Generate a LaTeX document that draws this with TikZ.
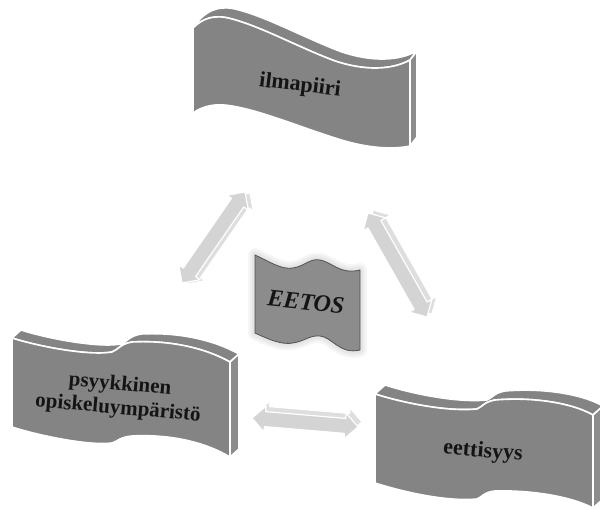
\documentclass[tikz,border=0pt]{standalone}
\usepackage{fontspec}
\setmainfont{Liberation Serif}
\usetikzlibrary{calc}

\definecolor{slabgray}{RGB}{132,132,132}
\definecolor{slabside}{RGB}{140,140,140}
\definecolor{flaggray}{RGB}{140,140,140}
\definecolor{flagline}{RGB}{80,80,80}
\definecolor{arrowfront}{RGB}{212,212,212}
\definecolor{arrowside}{RGB}{222,222,222}
\definecolor{inkblack}{RGB}{20,20,20}

% Extruded wavy slab: front edges T0..T9 (top) and B0..B9 (bottom),
% extruded by the vector (#1,#2).
\newcommand\drawslab[2]{%
  \filldraw[slabface] (T0) .. controls (T1) and (T2) .. (T3)
      .. controls (T4) and (T5) .. (T6) .. controls (T7) and (T8) .. (T9)
      -- ($(T9)+(#1,#2)$)
      .. controls ($(T8)+(#1,#2)$) and ($(T7)+(#1,#2)$) .. ($(T6)+(#1,#2)$)
      .. controls ($(T5)+(#1,#2)$) and ($(T4)+(#1,#2)$) .. ($(T3)+(#1,#2)$)
      .. controls ($(T2)+(#1,#2)$) and ($(T1)+(#1,#2)$) .. ($(T0)+(#1,#2)$)
      -- cycle;
  \filldraw[slabface, fill=slabside] (T9) -- ($(T9)+(#1,#2)$)
      -- ($(B9)+(#1,#2)$) -- (B9) -- cycle;
  \filldraw[slabface] (T0) .. controls (T1) and (T2) .. (T3)
      .. controls (T4) and (T5) .. (T6) .. controls (T7) and (T8) .. (T9)
      -- (B9) .. controls (B8) and (B7) .. (B6)
      .. controls (B5) and (B4) .. (B3) .. controls (B2) and (B1) .. (B0)
      -- cycle;
}

% Double block arrow outline between the coordinates (arrA) and (arrB)
\newcommand\arrowoutline{%
  (arrA)
  -- ($(arrA)!13pt!(arrB)!13pt!90:(arrB)$)
  -- ($(arrA)!13pt!(arrB)!7.5pt!90:(arrB)$)
  -- ($(arrB)!13pt!(arrA)!7.5pt!-90:(arrA)$)
  -- ($(arrB)!13pt!(arrA)!13pt!-90:(arrA)$)
  -- (arrB)
  -- ($(arrB)!13pt!(arrA)!13pt!90:(arrA)$)
  -- ($(arrB)!13pt!(arrA)!7.5pt!90:(arrA)$)
  -- ($(arrA)!13pt!(arrB)!7.5pt!-90:(arrB)$)
  -- ($(arrA)!13pt!(arrB)!13pt!-90:(arrB)$)
  -- cycle}

% Block arrow from #1 to #2 with a side copy offset by (#3,#4)
\newcommand\blockarrow[4]{%
  \coordinate (arrA) at ($(#1)+(#3,#4)$);
  \coordinate (arrB) at ($(#2)+(#3,#4)$);
  \filldraw[arrowbody, fill=arrowside] \arrowoutline;
  \coordinate (arrA) at (#1);
  \coordinate (arrB) at (#2);
  \filldraw[arrowbody, fill=arrowfront] \arrowoutline;
}

\tikzset{
  slabface/.style={fill=slabgray, draw=white, line width=1.6pt, line join=round},
  arrowbody/.style={draw=white, line width=1.2pt, line join=round},
  slabtext/.style={text=inkblack, font=\bfseries\fontsize{21}{24}\selectfont, align=center},
  flagtext/.style={text=inkblack, font=\bfseries\itshape\fontsize{24}{27}\selectfont}
}

\begin{document}
\begin{tikzpicture}[x=1pt,y=-1pt]
\useasboundingbox (0,0) rectangle (600,510);

% ---- top slab: ilmapiiri
\coordinate (T0) at (193,28);  \coordinate (T1) at (203,18);
\coordinate (T2) at (215,14);  \coordinate (T3) at (232,19);
\coordinate (T4) at (262,27);  \coordinate (T5) at (300,48);
\coordinate (T6) at (335,61);  \coordinate (T7) at (365,71);
\coordinate (T8) at (392,70);  \coordinate (T9) at (410,60);
\coordinate (B0) at (193,113); \coordinate (B1) at (203,106);
\coordinate (B2) at (215,103); \coordinate (B3) at (232,106);
\coordinate (B4) at (262,111); \coordinate (B5) at (300,127);
\coordinate (B6) at (335,138); \coordinate (B7) at (365,148);
\coordinate (B8) at (392,150); \coordinate (B9) at (410,146);
\drawslab{7}{-9}
\node[slabtext, font=\bfseries\fontsize{22}{24}\selectfont, rotate=-7] (ilma) at (300,86) {ilmapiiri};

% ---- lower left slab
\coordinate (T0) at (12,338);  \coordinate (T1) at (40,347);
\coordinate (T2) at (90,356);  \coordinate (T3) at (112,352);
\coordinate (T4) at (118,350); \coordinate (T5) at (120,344);
\coordinate (T6) at (132,342); \coordinate (T7) at (170,340);
\coordinate (T8) at (205,348); \coordinate (T9) at (230,362);
\coordinate (B0) at (12,427);  \coordinate (B1) at (40,436);
\coordinate (B2) at (90,446);  \coordinate (B3) at (112,443);
\coordinate (B4) at (118,441); \coordinate (B5) at (120,437);
\coordinate (B6) at (132,436); \coordinate (B7) at (170,434);
\coordinate (B8) at (205,442); \coordinate (B9) at (230,457);
\drawslab{9}{-8}
\node[slabtext, rotate=-5] (psyk) at (119,397) {psyykkinen\\opiskeluympäristö};

% ---- lower right slab: eettisyys
\coordinate (T0) at (375,394); \coordinate (T1) at (400,402);
\coordinate (T2) at (445,412); \coordinate (T3) at (477,409);
\coordinate (T4) at (482,407); \coordinate (T5) at (484,402);
\coordinate (T6) at (495,400); \coordinate (T7) at (530,397);
\coordinate (T8) at (570,402); \coordinate (T9) at (593,415);
\coordinate (B0) at (375,483); \coordinate (B1) at (400,491);
\coordinate (B2) at (445,502); \coordinate (B3) at (477,499);
\coordinate (B4) at (482,497); \coordinate (B5) at (484,492);
\coordinate (B6) at (495,491); \coordinate (B7) at (530,490);
\coordinate (B8) at (570,496); \coordinate (B9) at (593,508);
\drawslab{10}{-9}
\node[slabtext, font=\bfseries\fontsize{22}{24}\selectfont, rotate=-5] (etti) at (483,452) {eettisyys};

% ---- central flag with a soft halo
\def\flagpath{(255,255) .. controls (270,262) and (282,270) .. (293,268)
  .. controls (305,266) and (310,258) .. (320,260)
  .. controls (332,262) and (340,275) .. (360,270)
  -- (360,350) .. controls (340,355) and (332,337) .. (320,336)
  .. controls (310,335) and (305,341) .. (293,343)
  .. controls (282,345) and (270,340) .. (255,333) -- cycle}
\foreach \w in {14,10,6} {
  \draw[gray, opacity=0.07, line width=\w pt, line join=round] \flagpath;
}
\filldraw[fill=flaggray, draw=flagline, line width=0.8pt] \flagpath;
\node[flagtext, rotate=-6] (eetos) at (306,302) {EETOS};

% ---- double block arrows between the slabs
\coordinate (ulA) at (182,283); \coordinate (ulB) at (245,192);
\coordinate (urA) at (368,213); \coordinate (urB) at (427,317);
\coordinate (boA) at (252,418); \coordinate (boB) at (358,427);
\blockarrow{ulA}{ulB}{5}{1}
\blockarrow{urA}{urB}{5}{-3}
\blockarrow{boA}{boB}{4}{-5}

\end{tikzpicture}
\end{document}
